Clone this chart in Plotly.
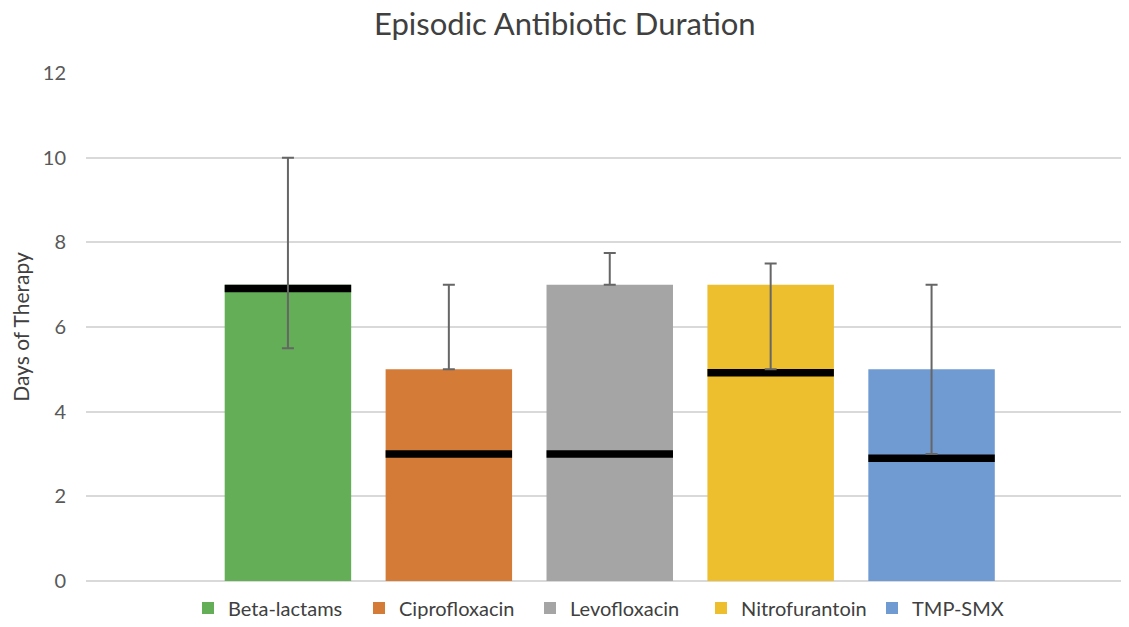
import plotly.graph_objects as go

categories = ["Beta-lactams", "Ciprofloxacin", "Levofloxacin", "Nitrofurantoin", "TMP-SMX"]
bar_values = [7, 5, 7, 7, 5]
medians = [6.91, 3.0, 3.0, 4.92, 2.9]
range_low = [5.5, 5.0, 7.0, 5.0, 3.0]
range_high = [10.0, 7.0, 7.75, 7.5, 7.0]
colors = ["#63AE57", "#D47B38", "#A5A5A5", "#EDBF2E", "#6F9BD2"]
title_text = "Episodic Antibiotic Duration"

BAR_W = 0.786
MED_T = 0.18
FONT = "Lato, Open Sans, sans-serif"

fig = go.Figure()
for i, (name, v, c) in enumerate(zip(categories, bar_values, colors)):
    fig.add_trace(go.Bar(x=[i], y=[v], name=name, marker=dict(color=c, line=dict(width=0)),
                         width=BAR_W, showlegend=True))

# median bands
fig.add_trace(go.Bar(x=list(range(len(categories))), y=[MED_T] * len(categories),
                     base=[m - MED_T / 2 for m in medians], width=BAR_W,
                     marker=dict(color="black", line=dict(width=0)), showlegend=False,
                     hoverinfo="skip"))

# range whiskers
fig.add_trace(go.Scatter(
    x=list(range(len(categories))), y=bar_values, mode="markers",
    marker=dict(size=0.1, opacity=0), showlegend=False, hoverinfo="skip",
    error_y=dict(type="data", symmetric=False,
                 array=[h - v for h, v in zip(range_high, bar_values)],
                 arrayminus=[v - l for l, v in zip(range_low, bar_values)],
                 color="#666666", thickness=2, width=6)))

fig.add_annotation(text=title_text, xref="paper", yref="paper", x=0.459, y=1.098,
                   xanchor="center", yanchor="middle", showarrow=False,
                   font=dict(family=FONT, size=31, color="#404040"))

# page body has an 8px margin: the figure is sized to fill the rest of the window
fig.update_layout(
    width=1121, height=611,
    margin=dict(l=78, r=0, t=65, b=38, autoexpand=False),
    paper_bgcolor="white", plot_bgcolor="white",
    barmode="overlay",
    xaxis=dict(range=[-1.255, 5.227], showticklabels=False, showgrid=False, zeroline=False,
               showline=False, ticks=""),
    yaxis=dict(range=[0, 12], dtick=2, tick0=0, showgrid=True, gridcolor="#D9D9D9", gridwidth=1.5,
               zeroline=True, zerolinecolor="#D9D9D9", zerolinewidth=1.5,
               ticks="", ticklabelstandoff=19, automargin=False,
               tickfont=dict(family=FONT, size=20, color="#595959"),
               title=dict(text="Days of Therapy", standoff=24,
                          font=dict(family=FONT, size=21, color="#404040"))),
    legend=dict(orientation="h", x=0.0978, xanchor="left", y=-0.053, yanchor="middle",
                font=dict(family=FONT, size=20, color="#404040"),
                itemwidth=30, tracegroupgap=0, entrywidth=126, entrywidthmode="pixels"),
    showlegend=True,
)

fig.write_html("out.html")
